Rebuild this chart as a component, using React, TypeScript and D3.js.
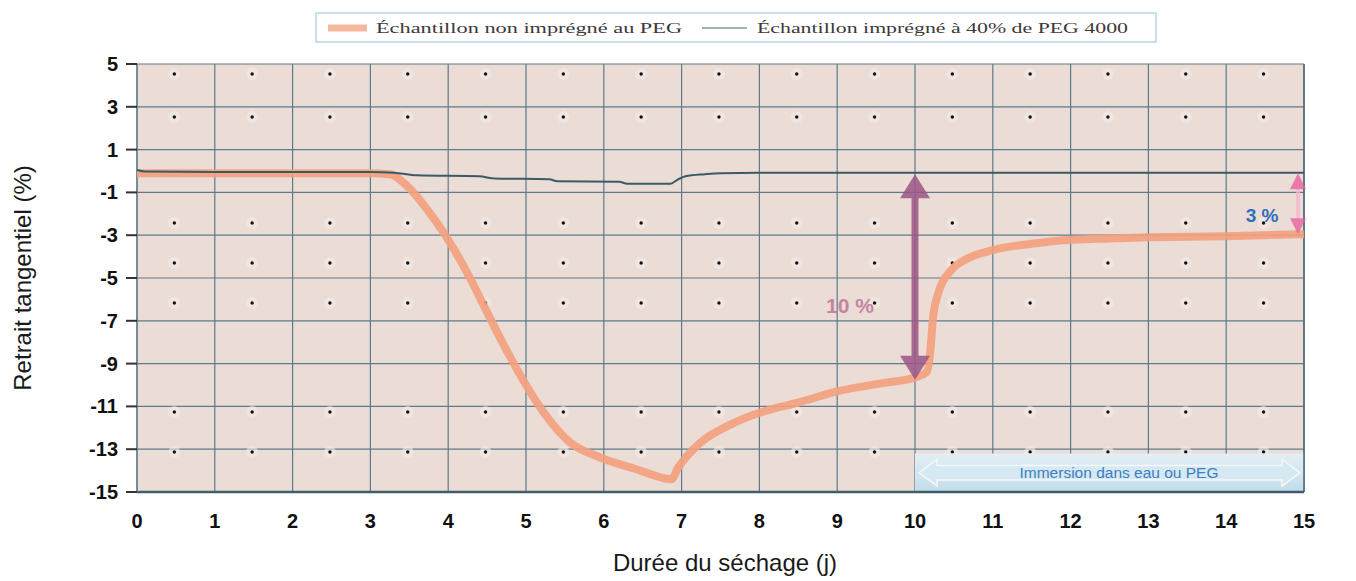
import React from "react";
import * as d3 from "d3";

// ---- data ----
const xTicks = [0, 1, 2, 3, 4, 5, 6, 7, 8, 9, 10, 11, 12, 13, 14, 15];
const yTicks = [5, 3, 1, -1, -3, -5, -7, -9, -11, -13, -15];

const seriesNonImpregne: [number, number][] = [
  [0, -0.1], [1, -0.1], [2, -0.1], [3, -0.1], [3.25, -0.15], [3.5, -0.8],
  [3.73, -1.8], [3.98, -3.1], [4.28, -5.0], [4.5, -6.6], [4.71, -8.1],
  [5.0, -10.0], [5.25, -11.4], [5.54, -12.6], [5.96, -13.4], [6.39, -13.9],
  [6.87, -14.4], [6.95, -13.9], [7.24, -12.7], [7.6, -11.9], [8.0, -11.3],
  [8.52, -10.8], [9.0, -10.3], [9.6, -9.9], [10.0, -9.65], [10.15, -9.4],
  [10.2, -8.3], [10.23, -6.9], [10.3, -5.7], [10.45, -4.7], [10.67, -4.1],
  [11.0, -3.7], [11.5, -3.4], [11.8, -3.27], [12.5, -3.15], [13, -3.1],
  [14, -3.05], [15, -2.95],
];

const seriesImpregne: [number, number][] = [
  [0, 0.05], [0.1, -0.02], [1, -0.05], [2, -0.05], [3, -0.05], [3.3, -0.08],
  [3.6, -0.2], [4.4, -0.25], [4.6, -0.35], [5.3, -0.38], [5.4, -0.48],
  [6.2, -0.5], [6.3, -0.6], [6.85, -0.6], [6.95, -0.4], [7.05, -0.25],
  [7.3, -0.15], [7.5, -0.1], [8, -0.08], [9, -0.08], [10, -0.08], [11, -0.08],
  [12, -0.08], [13, -0.08], [14, -0.08], [15, -0.08],
];

const legendLabels = [
  "Échantillon non imprégné au PEG",
  "Échantillon imprégné à 40% de PEG 4000",
];

const dotColumns = [0.48, 1.48, 2.48, 3.48, 4.48, 5.48, 6.48, 7.48, 8.48, 9.48, 10.48, 11.48, 12.48, 13.48, 14.48];
const dotRows = [4.53, 2.52, -2.43, -4.3, -6.17, -11.26, -13.13];

const bigArrow = { x: 10, from: -0.15, to: -9.75, label: "10 %" };
const smallArrow = { x: 15, from: -0.1, to: -2.95, label: "3 %" };
const immersion = { from: 10, to: 15, top: -13.2, bottom: -15, label: "Immersion dans eau ou PEG" };

export default function App() {
  const W = 1356, H = 581;
  const left = 137, right = 1304, top = 64, bottom = 492;
  const x = d3.scaleLinear().domain([0, 15]).range([left, right]);
  const y = d3.scaleLinear().domain([-15, 5]).range([bottom, top]);

  const line = d3.line<[number, number]>()
    .x((d) => x(d[0]))
    .y((d) => y(d[1]))
    .curve(d3.curveMonotoneX);

  const grid = "#5d7b8b";
  const bax = x(bigArrow.x);
  const bTop = y(bigArrow.from), bBot = y(bigArrow.to);
  const sax = x(smallArrow.x) - 6;
  const sTop = y(smallArrow.from), sBot = y(smallArrow.to);
  const ix0 = x(immersion.from), ix1 = x(immersion.to);
  const iy0 = y(immersion.top), iy1 = y(immersion.bottom);
  const iym = (iy0 + iy1) / 2;

  return (
    <svg width={W} height={H} style={{ position: "absolute", left: 0, top: 0, background: "#fff" }}
      fontFamily="'Liberation Sans', Arial, sans-serif">
      <defs>
        <linearGradient id="imm" x1="0" y1="0" x2="0" y2="1">
          <stop offset="0" stopColor="#e4eef3" />
          <stop offset="0.5" stopColor="#d3e6f0" />
          <stop offset="1" stopColor="#c2dcea" />
        </linearGradient>
      </defs>

      {/* legend */}
      <rect x={316} y={13} width={840} height={29} fill="#fff" stroke="#b9d6e8" strokeWidth={1.5} />
      <line x1={328} x2={367} y1={28} y2={28} stroke="#f6b89c" strokeWidth={7} />
      <text x={376} y={33} fontFamily="'Liberation Serif', 'Times New Roman', serif" fontSize={15}
        fill="#3a3a3a" textLength={306} lengthAdjust="spacingAndGlyphs">{legendLabels[0]}</text>
      <line x1={702} x2={747} y1={28} y2={28} stroke="#7e97a6" strokeWidth={1.5} />
      <text x={757} y={33} fontFamily="'Liberation Serif', 'Times New Roman', serif" fontSize={15}
        fill="#3a3a3a" textLength={371} lengthAdjust="spacingAndGlyphs">{legendLabels[1]}</text>

      {/* plot background */}
      <rect x={left} y={top} width={right - left} height={bottom - top} fill="#ebdcd6" />

      {/* grid */}
      {xTicks.map((t) => (
        <line key={"vx" + t} x1={x(t)} x2={x(t)} y1={top} y2={bottom} stroke={grid} strokeWidth={1.2} />
      ))}
      {yTicks.map((t) => (
        <line key={"hy" + t} x1={left} x2={right} y1={y(t)} y2={y(t)} stroke={grid} strokeWidth={1.2} />
      ))}

      {/* dots */}
      {dotRows.map((r) =>
        dotColumns.map((c) => (
          <g key={"d" + r + "_" + c}>
            <circle cx={x(c)} cy={y(r)} r={6} fill="#f3ebe8" opacity={0.6} />
            <circle cx={x(c)} cy={y(r)} r={1.7} fill="#111" />
          </g>
        ))
      )}

      {/* immersion banner */}
      <rect x={ix0} y={iy0} width={ix1 - ix0} height={iy1 - iy0} fill="url(#imm)" />
      <polygon
        points={`${ix0 + 4},${iym} ${ix0 + 22},${iy0 + 6} ${ix0 + 22},${iy0 + 12} ${ix1 - 22},${iy0 + 12} ${ix1 - 22},${iy0 + 6} ${ix1 - 4},${iym} ${ix1 - 22},${iy1 - 6} ${ix1 - 22},${iy1 - 12} ${ix0 + 22},${iy1 - 12} ${ix0 + 22},${iy1 - 6}`}
        fill="#d6e8f2" stroke="#f4f9fb" strokeWidth={1.5} />
      <text x={1119} y={iym + 5} textAnchor="middle" fontSize={15.5} fill="#3a80c3">{immersion.label}</text>

      {/* border */}
      <line x1={right} x2={right} y1={top} y2={bottom} stroke="#4f6e7e" strokeWidth={1.6} />
      <line x1={left} x2={right} y1={bottom} y2={bottom} stroke="#3f5d6d" strokeWidth={2.4} />
      <line x1={left} x2={left} y1={top} y2={bottom} stroke={grid} strokeWidth={1.2} />

      {/* series */}
      <path d={line(seriesNonImpregne) || ""} fill="none" stroke="#f3a07d" strokeWidth={8} strokeLinejoin="round" opacity={0.9} />
      <path d={line(seriesImpregne) || ""} fill="none" stroke="#3c5966" strokeWidth={2} />

      {/* big arrow */}
      <g fill="#9c5686" stroke="#9c5686" opacity={0.85}>
        <line x1={bax} x2={bax} y1={bTop + 18} y2={bBot - 18} strokeWidth={7} />
        <polygon points={`${bax},${bTop} ${bax - 15},${bTop + 24} ${bax + 15},${bTop + 24}`} stroke="none" />
        <polygon points={`${bax},${bBot} ${bax - 15},${bBot - 24} ${bax + 15},${bBot - 24}`} stroke="none" />
      </g>
      <text x={850} y={313} textAnchor="middle" fontSize={21} fontWeight="bold" fill="#bd7898" opacity={0.85}>{bigArrow.label}</text>

      {/* small arrow */}
      <g fill="#ea5a9c" opacity={0.75}>
        <line x1={sax} x2={sax} y1={sTop + 10} y2={sBot - 10} stroke="#f3b7cf" strokeWidth={4} />
        <polygon points={`${sax},${sTop} ${sax - 8},${sTop + 16} ${sax + 8},${sTop + 16}`} />
        <polygon points={`${sax},${sBot} ${sax - 8},${sBot - 16} ${sax + 8},${sBot - 16}`} />
      </g>
      <text x={1262} y={222} textAnchor="middle" fontSize={19} fontWeight="bold" fill="#2d6fbd">{smallArrow.label}</text>

      {/* y axis */}
      {yTicks.map((t) => (
        <g key={"yt" + t}>
          <line x1={126} x2={left} y1={y(t)} y2={y(t)} stroke="#333" strokeWidth={2} />
          <text x={118} y={y(t) + 7} textAnchor="end" fontSize={20} fontWeight="900" fill="#111">{t}</text>
        </g>
      ))}
      {/* x axis labels */}
      {xTicks.map((t) => (
        <text key={"xt" + t} x={x(t)} y={528} textAnchor="middle" fontSize={20} fontWeight="900" fill="#111">{t}</text>
      ))}

      {/* titles */}
      <text x={725} y={571} textAnchor="middle" fontSize={24} fill="#1a1a1a">Durée du séchage (j)</text>
      <text transform={`translate(31,278) rotate(-90)`} textAnchor="middle" fontSize={24} fill="#1a1a1a">Retrait tangentiel (%)</text>
    </svg>
  );
}
